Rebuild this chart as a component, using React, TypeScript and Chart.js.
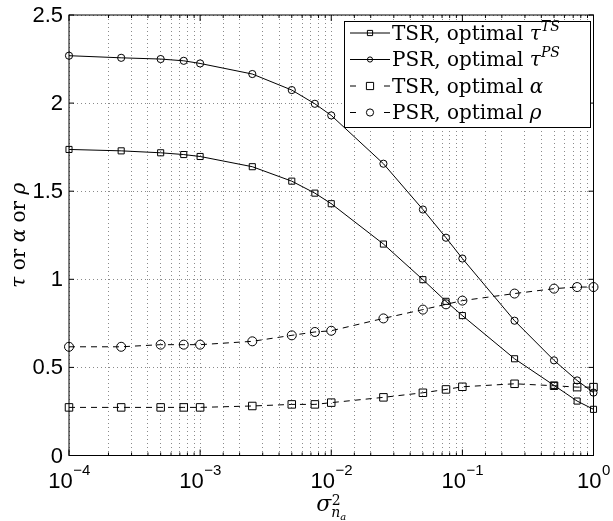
import React, { useEffect, useRef } from "react";
import { Chart, registerables } from "chart.js";

Chart.register(...registerables);

// ---- data ----
const xValues = [1e-4, 2.5e-4, 5e-4, 7.5e-4, 1e-3, 2.5e-3, 5e-3, 7.5e-3, 1e-2, 2.5e-2, 5e-2, 7.5e-2, 1e-1, 2.5e-1, 5e-1, 7.5e-1, 1];
const tsrTau = [1.737, 1.729, 1.718, 1.708, 1.697, 1.639, 1.557, 1.489, 1.429, 1.2, 0.998, 0.875, 0.794, 0.549, 0.398, 0.309, 0.262];
const psrTau = [2.269, 2.257, 2.25, 2.24, 2.225, 2.165, 2.074, 1.996, 1.93, 1.656, 1.396, 1.236, 1.118, 0.765, 0.54, 0.426, 0.357];
const tsrAlpha = [0.273, 0.273, 0.273, 0.273, 0.273, 0.281, 0.29, 0.29, 0.3, 0.33, 0.356, 0.375, 0.39, 0.407, 0.396, 0.388, 0.388];
const psrRho = [0.617, 0.617, 0.629, 0.629, 0.629, 0.648, 0.682, 0.701, 0.708, 0.778, 0.828, 0.858, 0.879, 0.919, 0.947, 0.956, 0.956];

const yTickValues = [0, 0.5, 1, 1.5, 2, 2.5];
const yTickLabels = ["0", "0.5", "1", "1.5", "2", "2.5"];
const xDecadeValues = [1e-4, 1e-3, 1e-2, 1e-1, 1];
const xDecadeExponents = ["\u22124", "\u22123", "\u22122", "\u22121", "0"];

const seriesNames = ["TSR, optimal ", "PSR, optimal ", "TSR, optimal ", "PSR, optimal "];
const seriesGreek = ["\u03C4", "\u03C4", "\u03B1", "\u03C1"];
const seriesSup = ["TS", "PS", "", ""];

const SERIF = '"DejaVu Serif"';
const SANS = '"Liberation Sans", Arial, sans-serif';

type Seg = { t: string; f: string; dy?: number };

function drawSegs(ctx: CanvasRenderingContext2D, segs: Seg[], x: number, y: number, align: "left" | "center") {
  let total = 0;
  const widths = segs.map((s) => {
    ctx.font = s.f;
    const w = ctx.measureText(s.t).width;
    total += w;
    return w;
  });
  let cx = align === "center" ? x - total / 2 : x;
  ctx.textAlign = "left";
  segs.forEach((s, i) => {
    ctx.font = s.f;
    ctx.fillText(s.t, cx, y + (s.dy || 0));
    cx += widths[i];
  });
}

const matlabPlugin = {
  id: "matlabAxes",
  afterDraw(chart: any) {
    const { ctx, chartArea: a } = chart;
    const xs = chart.scales.x;
    const ys = chart.scales.y;
    ctx.save();
    ctx.setLineDash([]);
    ctx.strokeStyle = "#000";
    ctx.fillStyle = "#000";
    ctx.lineWidth = 1;
    // box
    ctx.strokeRect(a.left, a.top, a.right - a.left, a.bottom - a.top);
    // x ticks (inside, bottom and top)
    ctx.beginPath();
    xs.ticks.forEach((t: any) => {
      const px = xs.getPixelForValue(t.value);
      const lg = Math.log10(t.value);
      const major = Math.abs(lg - Math.round(lg)) < 1e-6;
      const len = major ? 6 : 3;
      ctx.moveTo(px, a.bottom);
      ctx.lineTo(px, a.bottom - len);
      ctx.moveTo(px, a.top);
      ctx.lineTo(px, a.top + len);
    });
    yTickValues.forEach((v) => {
      const py = ys.getPixelForValue(v);
      ctx.moveTo(a.left, py);
      ctx.lineTo(a.left + 5, py);
      ctx.moveTo(a.right, py);
      ctx.lineTo(a.right - 5, py);
    });
    ctx.stroke();

    // y tick labels
    ctx.font = "22px " + SANS;
    ctx.textAlign = "right";
    ctx.textBaseline = "middle";
    yTickValues.forEach((v, i) => {
      ctx.fillText(yTickLabels[i], a.left - 6, ys.getPixelForValue(v) + 1);
    });

    // x tick labels 10^n
    ctx.textBaseline = "middle";
    xDecadeValues.forEach((v, i) => {
      const px = xs.getPixelForValue(v);
      ctx.font = "22px " + SANS;
      const w1 = ctx.measureText("10").width;
      ctx.font = "15px " + SANS;
      const w2 = ctx.measureText(xDecadeExponents[i]).width;
      const start = px - (w1 + w2) / 2;
      ctx.textAlign = "left";
      ctx.font = "22px " + SANS;
      ctx.fillText("10", start, a.bottom + 26);
      ctx.font = "15px " + SANS;
      ctx.fillText(xDecadeExponents[i], start + w1 + 0.5, a.bottom + 15);
    });

    // x axis title sigma^2_{n_a}
    ctx.textBaseline = "alphabetic";
    const cx = (a.left + a.right) / 2;
    ctx.font = "italic 22px " + SERIF;
    const ws = ctx.measureText("\u03C3").width;
    ctx.font = "italic 14px " + SERIF;
    const wn = ctx.measureText("n").width;
    ctx.font = "italic 10px " + SERIF;
    const wa = ctx.measureText("a").width;
    const totalT = ws + wn + wa;
    const sx = cx - totalT / 2;
    ctx.textAlign = "left";
    ctx.font = "italic 22px " + SERIF;
    ctx.fillText("\u03C3", sx, a.bottom + 55.5);
    ctx.font = "14px " + SERIF;
    ctx.fillText("2", sx + ws + 0.5, a.bottom + 49.5);
    ctx.font = "italic 14px " + SERIF;
    ctx.fillText("n", sx + ws, a.bottom + 61);
    ctx.font = "italic 10px " + SERIF;
    ctx.fillText("a", sx + ws + wn, a.bottom + 64.5);

    // y axis title
    ctx.save();
    ctx.translate(25, (a.top + a.bottom) / 2 + 0);
    ctx.rotate(-Math.PI / 2);
    drawSegs(
      ctx,
      [
        { t: "\u03C4", f: "italic 20px " + SERIF },
        { t: " or ", f: "20px " + SERIF },
        { t: "\u03B1", f: "italic 20px " + SERIF },
        { t: " or ", f: "20px " + SERIF },
        { t: "\u03C1", f: "italic 20px " + SERIF },
      ],
      0,
      0,
      "center"
    );
    ctx.restore();

    // legend
    const lx = 344.5, ly = 21.5, lw = 246, lh = 106;
    ctx.fillStyle = "#fff";
    ctx.fillRect(lx, ly, lw, lh);
    ctx.strokeStyle = "#000";
    ctx.lineWidth = 1;
    ctx.strokeRect(lx, ly, lw, lh);
    ctx.fillStyle = "#000";
    const rowY = [33, 59.5, 86, 112.5];
    const ds = chart.data.datasets;
    rowY.forEach((ry, i) => {
      const d = ds[i];
      ctx.beginPath();
      ctx.setLineDash(d.borderDash && d.borderDash.length ? [6, 28] : []);
      ctx.moveTo(350, ry);
      ctx.lineTo(390, ry);
      ctx.stroke();
      ctx.setLineDash([]);
      // marker
      const r = i < 2 ? 2.6 : 3.6;
      ctx.beginPath();
      if (d.pointStyle === "rect") {
        ctx.rect(370 - r, ry - r, 2 * r, 2 * r);
      } else {
        ctx.arc(370, ry, r, 0, Math.PI * 2);
      }
      ctx.stroke();
      const segs: Seg[] = [
        { t: seriesNames[i], f: "20px " + SERIF },
        { t: seriesGreek[i], f: "italic 20px " + SERIF },
      ];
      if (seriesSup[i]) segs.push({ t: seriesSup[i], f: "italic 14px " + SERIF, dy: -9 });
      ctx.textBaseline = "alphabetic";
      drawSegs(ctx, segs, 392, ry + 6.5, "left");
    });

    ctx.restore();
  },
};

export default function App() {
  const ref = useRef<HTMLCanvasElement | null>(null);

  useEffect(() => {
    if (!ref.current) return;
    const mk = (ys: number[]) => xValues.map((x, i) => ({ x, y: ys[i] }));
    const base = {
      borderColor: "#000",
      borderWidth: 1,
      pointBorderColor: "#000",
      pointBackgroundColor: "rgba(0,0,0,0)",
      pointBorderWidth: 1,
      tension: 0,
      fill: false,
      clip: false as any,
    };
    const chart = new Chart(ref.current, {
      type: "line",
      data: {
        datasets: [
          { ...base, label: "TSR, optimal \u03C4^TS", data: mk(tsrTau), pointStyle: "rect", pointRadius: 4.3 },
          { ...base, label: "PSR, optimal \u03C4^PS", data: mk(psrTau), pointStyle: "circle", pointRadius: 3.6 },
          { ...base, label: "TSR, optimal \u03B1", data: mk(tsrAlpha), pointStyle: "rect", pointRadius: 5.3, borderDash: [6, 5] },
          { ...base, label: "PSR, optimal \u03C1", data: mk(psrRho), pointStyle: "circle", pointRadius: 4.5, borderDash: [6, 5] },
        ] as any,
      },
      options: {
        responsive: false,
        animation: false,
        devicePixelRatio: 1,
        layout: { padding: { left: 69, top: 15, right: 19.5, bottom: 65.5 } },
        plugins: { legend: { display: false }, tooltip: { enabled: false } },
        events: [],
        scales: {
          x: {
            type: "logarithmic",
            min: 1e-4,
            max: 1,
            ticks: { display: false, autoSkip: false },
            grid: { color: "#8a8a8a", lineWidth: 1, drawTicks: false },
            border: { display: false, dash: [1, 3] },
            afterFit: (s: any) => { s.height = 0; },
          },
          y: {
            type: "linear",
            min: 0,
            max: 2.5,
            ticks: { display: false, stepSize: 0.5 },
            grid: { color: "#8a8a8a", lineWidth: 1, drawTicks: false },
            border: { display: false, dash: [1, 3] },
            afterFit: (s: any) => { s.width = 0; },
          },
        } as any,
      },
      plugins: [matlabPlugin],
    });
    return () => chart.destroy();
  }, []);

  return (
    <div style={{ position: "fixed", left: 0, top: 0, width: 613, height: 521, background: "#fff" }}>
      <canvas ref={ref} width={613} height={521} style={{ width: 613, height: 521, display: "block" }} />
    </div>
  );
}
